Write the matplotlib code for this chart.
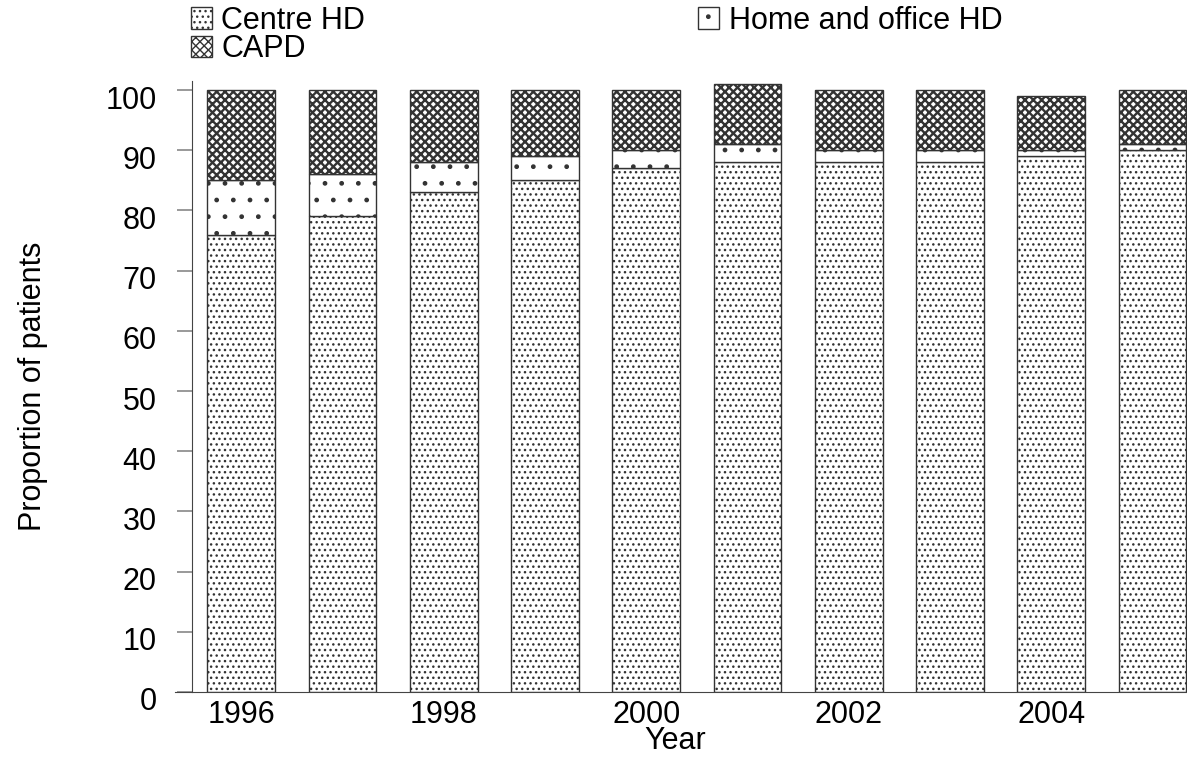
import matplotlib
matplotlib.use("Agg")
import matplotlib.pyplot as plt
import matplotlib.transforms as mtransforms
from matplotlib.patches import Patch

plt.rcParams['font.family'] = ['Liberation Sans', 'DejaVu Sans']
plt.rcParams['hatch.linewidth'] = 1.0

years = [1996, 1997, 1998, 1999, 2000, 2001, 2002, 2003, 2004, 2005]
centre_hd = [76, 79, 83, 85, 87, 88, 88, 88, 89, 90]
home_hd = [9, 7, 5, 4, 3, 3, 2, 2, 1, 1]
capd = [15, 14, 12, 11, 10, 10, 10, 10, 9, 9]
xtick_years = [1996, 1998, 2000, 2002, 2004]
yticks = list(range(0, 101, 10))

fig = plt.figure(figsize=(11.87, 7.57), dpi=100)
ax = fig.add_axes([0.1618, 0.0859, 0.8382, 0.807])

w = 0.67
edge = '#333333'
hatch_edge = '#444444'
capd_hatch = 'xxxx'
capd_lw = 1.7
bottom2 = [c + h for c, h in zip(centre_hd, home_hd)]


def style(bars, lw_h):
    for b in bars:
        if hasattr(b, 'set_hatch_linewidth'):
            b.set_hatch_linewidth(lw_h)


with plt.rc_context({'hatch.linewidth': 1.0, 'hatch.color': hatch_edge}):
    b1 = ax.bar(years, centre_hd, width=w, color='white', edgecolor=edge, hatch='...', linewidth=1.0)
    b2 = ax.bar(years, home_hd, width=w, bottom=centre_hd, color='white', edgecolor=edge, hatch='.', linewidth=1.0)
with plt.rc_context({'hatch.linewidth': capd_lw, 'hatch.color': '#3a3a3a'}):
    b3 = ax.bar(years, capd, width=w, bottom=bottom2, color='white', edgecolor=edge, hatch=capd_hatch, linewidth=1.0)
style(b3, capd_lw)

ax.set_xlim(1995.515, 2005.34)
ax.set_ylim(0, 101.5)
ax.set_yticks(yticks)
ax.set_xticks(xtick_years)
ax.tick_params(axis='x', length=0, labelsize=22, pad=6)
ax.tick_params(axis='y', length=10.5, width=1.2, color='#888888', labelsize=22, pad=15)
offset = mtransforms.ScaledTranslation(0, -7 / 100, fig.dpi_scale_trans)
for lab in ax.get_yticklabels():
    lab.set_transform(lab.get_transform() + offset)
for s in ['top', 'right']:
    ax.spines[s].set_visible(False)
ax.spines['left'].set_color('#444444')
ax.spines['bottom'].set_color('#444444')
ax.spines['bottom'].set_bounds(1995.35, 2005.34)

ax.set_ylabel('Proportion of patients', fontsize=22)
ax.yaxis.set_label_coords(-0.145, 0.5)
ax.set_xlabel('Year', fontsize=22)
ax.xaxis.set_label_coords(0.486, -0.056)

handles = [
    Patch(facecolor='white', edgecolor=edge, hatch='...', label='Centre HD'),
    Patch(facecolor='white', edgecolor=edge, hatch=capd_hatch, label='CAPD'),
    Patch(facecolor='white', edgecolor=edge, hatch='.', label='Home and office HD'),
]
with plt.rc_context({'hatch.linewidth': 1.0}):
    leg = fig.legend(handles=handles, loc='upper left', bbox_to_anchor=(0.140, 1.025), ncol=2,
                     frameon=False, fontsize=22, handlelength=0.7, handleheight=0.7,
                     handletextpad=0.3, labelspacing=-0.04, columnspacing=10.9, borderpad=0.3)

fig.savefig('out.png', dpi=100)
